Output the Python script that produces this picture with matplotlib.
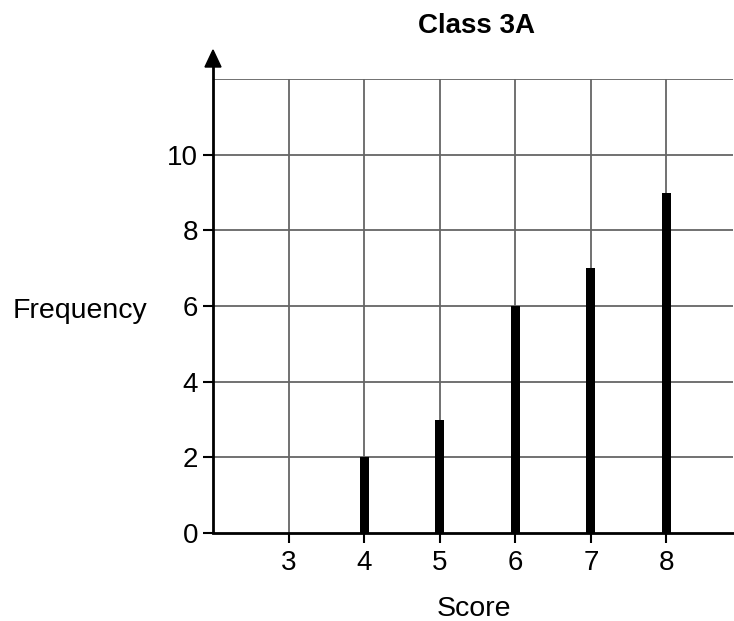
import matplotlib
matplotlib.use("Agg")
import matplotlib.pyplot as plt
from matplotlib.patches import Polygon

scores = [3, 4, 5, 6, 7, 8]
frequency = [0, 2, 3, 6, 7, 9]
y_ticks = [0, 2, 4, 6, 8, 10]
title = "Class 3A"
x_label = "Score"
y_label = "Frequency"

plt.rcParams['font.family'] = ['Liberation Sans', 'DejaVu Sans']

fig = plt.figure(figsize=(7.34, 6.21), dpi=100)
ax = fig.add_axes([213/734, 1-533/621, 520/734, (533-79)/621])

x0, x1, y0, y1 = 2, 8.88, 0, 12
ax.set_xlim(x0, x1)
ax.set_ylim(y0, y1)

# grid
for x in scores:
    ax.axvline(x, color='#666666', lw=1.3, zorder=1)
for y in y_ticks + [12]:
    if y == 0:
        continue
    ax.axhline(y, color='#666666', lw=1.3, zorder=1)

ax.bar(scores, frequency, width=0.12, color='black', zorder=3)

for s in ['top', 'right', 'left']:
    ax.spines[s].set_visible(False)
ax.spines['bottom'].set_linewidth(2)
ax.spines['bottom'].set_zorder(4)

# y axis line with arrow head (pixel sizes converted to data units)
px_x = (x1 - x0) / 520
px_y = (y1 - y0) / 454
tip = y1 + 29 * px_y
base = y1 + 12 * px_y
ax.plot([x0, x0], [y0, base + 2 * px_y], color='black', lw=2, clip_on=False, zorder=5,
        solid_capstyle='butt')
ax.add_patch(Polygon([[x0 - 8 * px_x, base], [x0 + 8 * px_x, base], [x0, tip]],
                     closed=True, color='black', clip_on=False, zorder=5))

ax.set_xticks(scores)
ax.set_yticks(y_ticks)
ax.tick_params(axis='both', length=7.2, width=1.5, labelsize=20, colors='black')
ax.tick_params(axis='x', pad=5)
ax.tick_params(axis='y', pad=3.5)

fig.text(476/734, 1-33/621, title, fontsize=20, fontweight='bold', ha='center', va='baseline')
fig.text(80/734, 1-318/621, y_label, fontsize=20.5, ha='center', va='baseline')
fig.text(474/734, 1-616/621, x_label, fontsize=20.5, ha='center', va='baseline')

fig.savefig('out.png', dpi=100)
